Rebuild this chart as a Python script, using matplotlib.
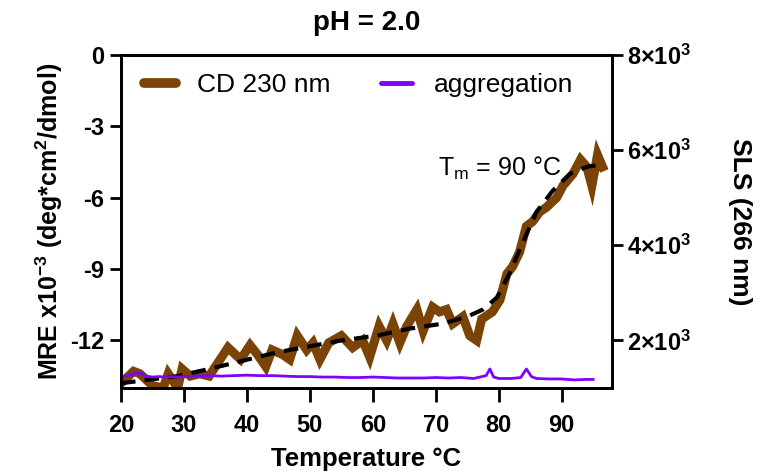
import matplotlib.pyplot as plt
from matplotlib.lines import Line2D
from matplotlib.ticker import FuncFormatter

plt.rcParams['font.family'] = 'Liberation Sans'
plt.rcParams['mathtext.fontset'] = 'custom'
plt.rcParams['mathtext.rm'] = 'Liberation Sans'
plt.rcParams['mathtext.bf'] = 'Liberation Sans:bold'
plt.rcParams['axes.unicode_minus'] = False

# CD signal at 230 nm (MRE x10^-3)
cd_temp = [20, 22, 23, 25, 26.7, 27.5, 29, 29.7, 31, 32.5, 34, 35, 37, 39, 40.5, 41.7,
           43, 44, 45.7, 46.8, 48, 49.5, 50.5, 51.6, 53, 55, 56.8, 58.4, 59.5, 61, 62.2,
           63.2, 64.3, 65.4, 67, 68, 69.5, 70.6, 71.7, 72.7, 74.3, 75.4, 76.5, 77.3, 79,
           80.2, 81.3, 82.2, 83.3, 84.4, 85.4, 86.5, 87.6, 89.2, 90.2, 91.8, 93, 94, 94.8,
           95.7, 96.5]
cd_mre = [-13.8, -13.3, -13.4, -13.9, -14.0, -13.4, -14.0, -13.2, -13.5, -13.4, -13.5, -13.1,
          -12.3, -12.8, -12.2, -12.6, -13.1, -12.4, -12.6, -12.8, -11.8, -12.4, -12.1, -12.8,
          -12.1, -11.8, -12.3, -12.0, -12.7, -11.4, -12.0, -11.3, -12.1, -11.4, -10.7, -11.6,
          -10.6, -10.8, -10.7, -11.3, -11.0, -11.8, -12.0, -11.1, -10.8, -10.3, -9.2, -8.9,
          -8.3, -7.2, -7.0, -6.6, -6.4, -6.0, -5.5, -5.0, -4.4, -4.7, -5.5, -4.2, -4.7]

# fitted curve
fit_temp = [20, 29, 34, 44.8, 55, 60.6, 65.9, 71, 75, 77.5, 79.7, 81.7, 83.8, 86, 88.6, 91.3, 94, 96.5]
fit_mre = [-13.8, -13.5, -13.2, -12.5, -12.0, -11.8, -11.5, -11.3, -11.0, -10.7, -10.2, -9.2,
           -7.9, -6.6, -5.7, -5.0, -4.7, -4.6]

# static light scattering at 266 nm
sls_temp = [20, 21, 22, 23, 24, 25, 26, 27, 28, 29, 30, 32, 34, 36, 38, 40, 42, 44, 46, 48,
            50, 52, 54, 56, 58, 60, 62, 64, 66, 68, 70, 72, 74, 76, 77, 78, 78.6, 79.2, 80,
            82, 83.5, 84.4, 85.2, 86, 88, 90, 92, 94, 95]
sls_val = [1230, 1260, 1300, 1320, 1250, 1230, 1240, 1230, 1240, 1230, 1240, 1250, 1260, 1250,
           1260, 1270, 1260, 1260, 1250, 1240, 1240, 1230, 1230, 1220, 1220, 1230, 1220, 1210,
           1210, 1210, 1220, 1210, 1220, 1200, 1230, 1260, 1400, 1230, 1200, 1200, 1220, 1400,
           1240, 1200, 1190, 1190, 1170, 1180, 1180]

brown = '#7b4306'
purple = '#8000ff'

fig = plt.figure(figsize=(7.63, 4.75), dpi=100)
ax = fig.add_axes([121/763, 1 - 388/475, 491/763, 333/475])
ax.plot(cd_temp, cd_mre, color=brown, lw=6.5, solid_joinstyle='miter')
ax.plot(fit_temp, fit_mre, color='black', lw=3, ls=(0, (3.5, 2.2)))
ax.set_xlim(20, 98)
ax.set_ylim(-14, 0)
ax.set_xticks(range(20, 100, 10))
ax.set_yticks([0, -3, -6, -9, -12])

ax2 = ax.twinx()
ax2.plot(sls_temp, sls_val, color=purple, lw=2)
ax2.set_ylim(1000, 8000)
ax2.set_yticks([2000, 4000, 6000, 8000])
ax2.yaxis.set_major_formatter(FuncFormatter(lambda v, p: r'$\mathbf{%d{\times}10^3}$' % (v / 1000)))

for a in (ax, ax2):
    for s in a.spines.values():
        s.set_linewidth(2)
    a.tick_params(width=2, length=8, labelsize=17, pad=4)
    for lab in a.get_xticklabels() + a.get_yticklabels():
        lab.set_fontweight('bold')
ax.tick_params(axis='x', length=10, pad=9)
ax2.tick_params(labelsize=17, pad=3)

ax.set_xlabel('Temperature °C', fontsize=18.5, fontweight='bold', labelpad=7)
ax.set_ylabel(r'MRE x10$^{\mathbf{-3}}$ (deg*cm$^{\mathbf{2}}$/dmol)', fontsize=18,
              fontweight='bold', labelpad=4)
ax2.set_ylabel('SLS (266 nm)', fontsize=19, fontweight='bold', rotation=270, labelpad=44)
ax.set_title('pH = 2.0', fontsize=20, fontweight='bold', pad=18)

ax.text(70.3, -4.75, r'T$_\mathrm{m}$ = 90 °C', fontsize=18, va='center', ha='left')

handles = [Line2D([], [], color=brown, lw=7, solid_capstyle='round'),
           Line2D([], [], color=purple, lw=3.5, solid_capstyle='round')]
ax2.legend(handles, ['CD 230 nm', 'aggregation'], loc='upper left', ncol=2, frameon=False,
           fontsize=19, handlelength=1.2, handletextpad=0.8, columnspacing=1.9,
           borderaxespad=0.3, bbox_to_anchor=(0.01, 1.0))

fig.savefig('out.png', dpi=100)
